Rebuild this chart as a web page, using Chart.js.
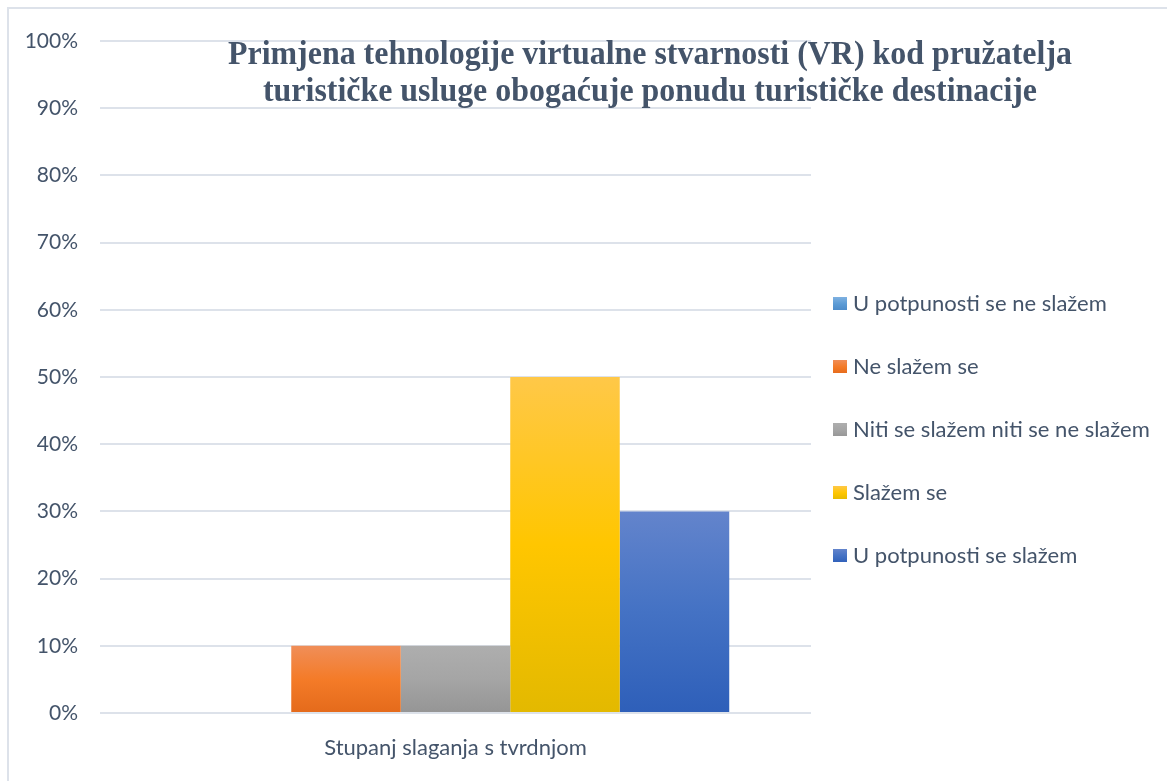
<!DOCTYPE html>
<html>
<head>
<meta charset="utf-8">
<script src="https://cdn.jsdelivr.net/npm/chart.js@4/dist/chart.umd.min.js"></script>
<style>
  body { margin: 0; background: #fff; }
  #wrap { position: relative; width: 1167px; height: 781px; overflow: hidden; }
  #frame { position: absolute; left: 7px; top: 7px; width: 1300px; height: 900px;
           border-left: 2px solid #dde2ea; border-top: 2px solid #dde2ea; }
  canvas { position: absolute; left: 0; top: 0; }
</style>
</head>
<body>
<div id="wrap">
  <div id="frame"></div>
  <canvas id="chart" width="1167" height="781"></canvas>
</div>
<script>
// podaci s grafikona
const categories = ['Stupanj slaganja s tvrdnjom'];
const seriesLabels = [
    'U potpunosti se ne slažem',
    'Ne slažem se',
    'Niti se slažem niti se ne slažem',
    'Slažem se',
    'U potpunosti se slažem'
];
const seriesValues = [0, 10, 10, 50, 30];
const titleLines = [
    'Primjena tehnologije virtualne stvarnosti (VR) kod pružatelja',
    'turističke usluge obogaćuje ponudu turističke destinacije'
];
const yTickMin = 0, yTickMax = 100, yTickStep = 10;

// boje: gornja, srednja, donja (gradijent kao u Excelu)
const seriesColors = [
    ['#7FB1E1', '#5B9BD5', '#4A89C8'],
    ['#F08E58', '#F47B28', '#E46A1B'],
    ['#AEAEAE', '#A5A5A5', '#959595'],
    ['#FFC848', '#FFC600', '#E3B900'],
    ['#6384CC', '#4472C4', '#2E5FB9']
];

const textColor = '#44546A';
const gridColor = '#dde2ea';

function barGradient(ctx, i) {
    const chart = ctx.chart;
    const y = chart.scales.y;
    const c = seriesColors[i];
    if (!chart.chartArea || !y) return c[1];
    const top = y.getPixelForValue(seriesValues[i]);
    const bottom = y.getPixelForValue(0);
    if (bottom - top < 1) return c[1];
    const g = chart.ctx.createLinearGradient(0, top, 0, bottom);
    g.addColorStop(0, c[0]);
    g.addColorStop(0.5, c[1]);
    g.addColorStop(1, c[2]);
    return g;
}

// naslov preko područja grafikona
const titlePlugin = {
    id: 'overlayTitle',
    afterDraw(chart) {
        const ctx = chart.ctx;
        ctx.save();
        ctx.font = 'bold 33px "Liberation Serif"';
        ctx.fillStyle = textColor;
        ctx.textAlign = 'center';
        ctx.textBaseline = 'alphabetic';
        const w = ctx.measureText(titleLines[0]).width;
        const sx = 844 / w;
        ctx.translate(650, 0);
        ctx.scale(sx, 1);
        ctx.fillText(titleLines[0], 0, 64);
        ctx.fillText(titleLines[1], 0, 101);
        ctx.restore();
    }
};

// legenda desno
const legendPlugin = {
    id: 'sideLegend',
    afterDraw(chart) {
        const ctx = chart.ctx;
        ctx.save();
        ctx.font = '22px Lato';
        ctx.textBaseline = 'middle';
        ctx.textAlign = 'left';
        chart.data.datasets.forEach((ds, i) => {
            const cy = 304 + i * 63;
            const c = seriesColors[i];
            const g = ctx.createLinearGradient(0, cy - 7, 0, cy + 7);
            g.addColorStop(0, c[0]);
            g.addColorStop(0.5, c[1]);
            g.addColorStop(1, c[2]);
            ctx.fillStyle = g;
            ctx.fillRect(833, cy - 7, 14, 13);
            ctx.fillStyle = textColor;
            ctx.fillText(ds.label, 853, cy);
        });
        ctx.restore();
    }
};

const ctx = document.getElementById('chart').getContext('2d');

new Chart(ctx, {
    type: 'bar',
    data: {
        labels: categories,
        datasets: seriesLabels.map((label, i) => ({
            label: label,
            data: [seriesValues[i]],
            backgroundColor: (c) => barGradient(c, i),
            borderWidth: 0,
            categoryPercentage: 0.77,
            barPercentage: 1.0
        }))
    },
    options: {
        responsive: false,
        animation: false,
        layout: { padding: { top: 41, right: 356, bottom: 0, left: 0 } },
        scales: {
            x: {
                grid: { display: false },
                border: { display: false },
                ticks: { color: textColor, font: { family: 'Lato', size: 22 }, padding: 14 },
                afterFit: (s) => { s.height = 68; }
            },
            y: {
                min: yTickMin,
                max: yTickMax,
                grid: { color: gridColor, lineWidth: 2, drawTicks: false },
                border: { display: false },
                ticks: {
                    stepSize: yTickStep,
                    color: textColor,
                    font: { family: 'Lato', size: 21 },
                    padding: 22,
                    callback: (v) => v + '%'
                },
                afterFit: (s) => { s.width = 100; }
            }
        },
        plugins: {
            legend: { display: false },
            tooltip: { enabled: false }
        }
    },
    plugins: [titlePlugin, legendPlugin]
});
</script>
</body>
</html>
